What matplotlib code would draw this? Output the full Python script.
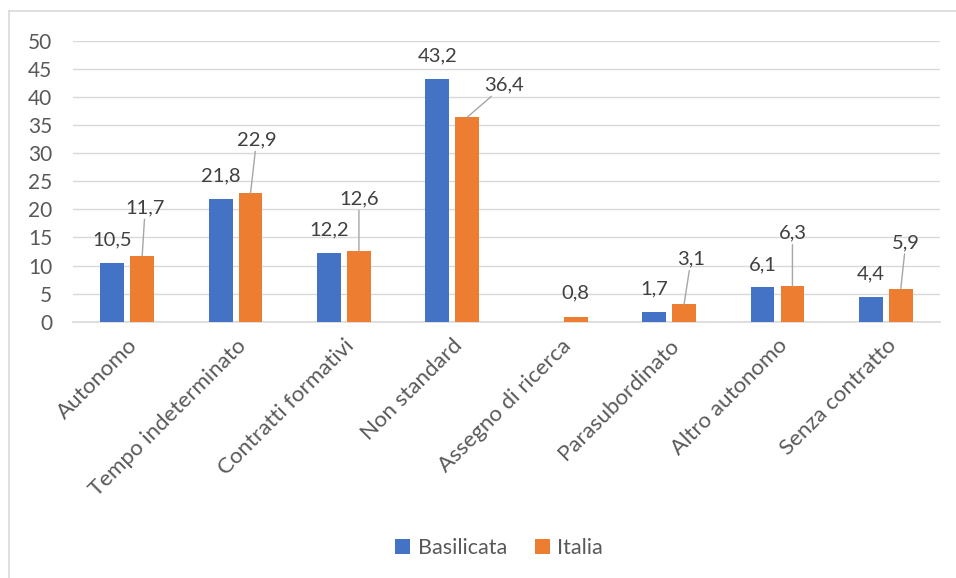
import matplotlib
matplotlib.use("Agg")
import matplotlib.pyplot as plt
from matplotlib.lines import Line2D
import numpy as np

categories = ["Autonomo", "Tempo indeterminato", "Contratti formativi", "Non standard",
              "Assegno di ricerca", "Parasubordinato", "Altro autonomo", "Senza contratto"]
basilicata = [10.5, 21.8, 12.2, 43.2, None, 1.7, 6.1, 4.4]
italia = [11.7, 22.9, 12.6, 36.4, 0.8, 3.1, 6.3, 5.9]
series_names = ["Basilicata", "Italia"]
y_ticks = [0, 5, 10, 15, 20, 25, 30, 35, 40, 45, 50]

# label offsets for the Italia series, in pixels from the bar top
italia_offsets = [(3, 48), (6, 53), (0, 52), (37, 32), (0, 24), (7, 45), (0, 53), (5, 46)]

BLUE = "#4472C4"
ORANGE = "#ED7D31"
GRID = "#D9D9D9"
TEXT = "#595959"
LABEL = "#404040"

plt.rcParams["font.family"] = ["Lato", "DejaVu Sans"]

fig = plt.figure(figsize=(9.56, 5.78), dpi=100)
ax = fig.add_axes([0.0764, 0.4434, 0.9069, 0.4862])

x = np.arange(len(categories))
width = 0.22
shift = 0.138

b_vals = [v if v is not None else 0 for v in basilicata]
bars_b = ax.bar(x - shift, b_vals, width, color=BLUE, label=series_names[0], zorder=3)
bars_i = ax.bar(x + shift, italia, width, color=ORANGE, label=series_names[1], zorder=3)

fmt = lambda v: f"{v:.1f}".replace(".", ",")

for xi, v in zip(x, basilicata):
    if v is None:
        continue
    ax.annotate(fmt(v), (xi - shift, v), xytext=(0, 23), textcoords="offset pixels",
                ha="center", va="center", fontsize=14.5, color=LABEL)

for xi, v, (dx, dy) in zip(x, italia, italia_offsets):
    arrow = dict(arrowstyle="-", color="#A6A6A6", lw=1.0, shrinkA=0, shrinkB=0) if dy > 30 else None
    ax.annotate(fmt(v), (xi + shift, v), xytext=(dx, dy), textcoords="offset pixels",
                ha="center", va="center", fontsize=14.5, color=LABEL, arrowprops=arrow)

ax.set_xlim(-0.5, len(categories) - 0.5)
ax.set_ylim(0, 50)
ax.set_yticks(y_ticks)
ax.yaxis.grid(True, color=GRID, lw=1.0, zorder=0)
ax.set_axisbelow(True)
for side in ["top", "right", "left"]:
    ax.spines[side].set_visible(False)
ax.spines["bottom"].set_color(GRID)
ax.spines["bottom"].set_linewidth(1.2)
ax.tick_params(axis="y", length=0, pad=15, labelsize=15, labelcolor=TEXT)
ax.tick_params(axis="x", length=0, pad=10, labelsize=16, labelcolor=TEXT)
ax.set_xticks(x)
ax.set_xticklabels(categories, rotation=45, ha="right", va="top", rotation_mode="anchor")

fig.legend(handles=[bars_b, bars_i], labels=series_names, loc="center",
           bbox_to_anchor=(0.522, 0.052), ncol=2, frameon=False, fontsize=15.5,
           labelcolor=TEXT, handlelength=0.7, handleheight=0.7, handletextpad=0.35,
           columnspacing=1.3)

# chart area border
fig.add_artist(Line2D([9 / 956, 1.0], [1 - 11 / 578] * 2, color=GRID, lw=1.2))
fig.add_artist(Line2D([9 / 956] * 2, [0.0, 1 - 11 / 578], color=GRID, lw=1.2))

fig.savefig("out.png", dpi=100)
